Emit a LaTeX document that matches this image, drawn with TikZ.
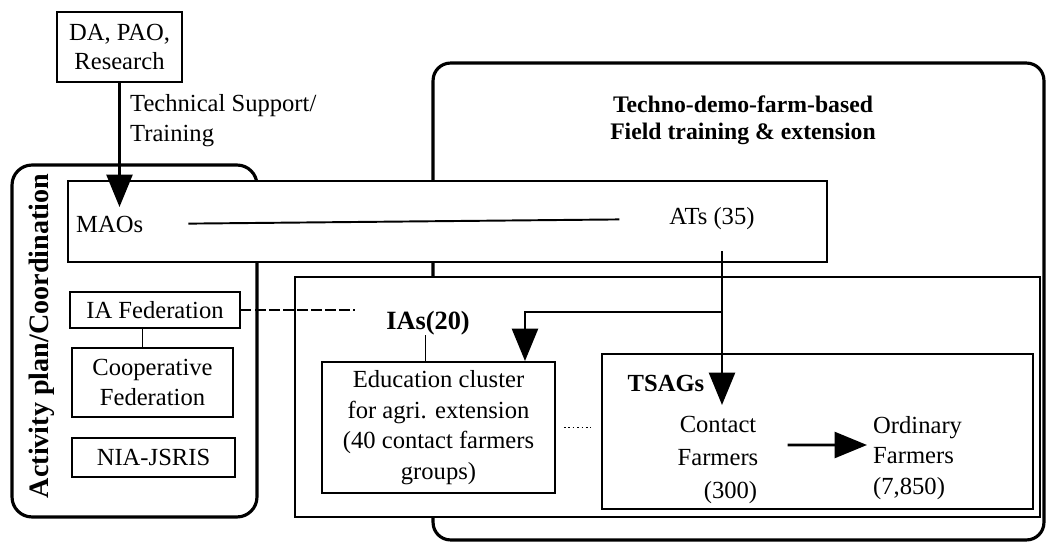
\documentclass[tikz,border=0pt]{standalone}
\usepackage{fontspec}
\setmainfont{Liberation Serif}
\usetikzlibrary{arrows.meta,positioning,calc}
\tikzset{
  plainbox/.style={draw,line width=1.1pt,fill=white,align=center,inner sep=0pt,
    font=\fontsize{14}{17}\selectfont},
  groupbox/.style={draw,line width=1.8pt,rounded corners=0.4cm,inner sep=0pt},
  tag/.style={align=center,font=\fontsize{14}{17}\selectfont},
  boldtag/.style={align=center,font=\bfseries\fontsize{14}{16}\selectfont},
  link/.style={line width=1.1pt},
  thinlink/.style={line width=0.6pt},
  bigarrow/.style={-{Triangle[length=0.65cm,width=0.52cm]},line width=1.6pt},
  dashlink/.style={line width=0.6pt,dash pattern=on 6pt off 2pt},
  dotlink/.style={line width=0.6pt,dash pattern=on 1pt off 1.5pt}
}
\begin{document}
\begin{tikzpicture}[x=0.02cm,y=-0.02cm]
  \useasboundingbox (0,0) rectangle (1047,543);
  % outer frames
  \node[groupbox,minimum width=4.9cm,minimum height=7.04cm] (actbox) at (134.5,341) {};
  \node[groupbox,rounded corners=0.35cm,minimum width=12.22cm,minimum height=9.54cm] (fieldbox) at (738.5,301.5) {};
  \node[rotate=90,font=\bfseries\fontsize{16}{18}\selectfont] (actlbl) at (42,336) {Activity plan/Coordination};
  \node[boldtag,font=\bfseries\fontsize{13.5}{15.5}\selectfont] (fieldlbl) at (743,120) {Techno-demo-farm-based\\Field training \& extension};

  % support
  \node[plainbox,minimum width=2.5cm,minimum height=1.4cm] (da) at (119.5,47) {DA, PAO,\\Research};
  \node[tag,anchor=west,align=left] (techlbl) at (124,121) {Technical Support/\\Training};

  % municipal level
  \node[plainbox,minimum width=15.18cm,minimum height=1.62cm] (maobox) at (447.5,221.5) {};
  \node[tag,anchor=west] (maos) at (70,224) {MAOs};
  \node[tag] (ats) at (712,219) {ATs (35)};
  \draw[link,shorten <=0.78cm,shorten >=0.88cm] (maos.east) -- (ats.west);
  \coordinate (maotip) at (119.5,207);
  \draw[bigarrow] (da.south) -- (maotip);

  % federations
  \node[plainbox,minimum width=3.4cm,minimum height=0.72cm] (iafed) at (155,310) {IA Federation};
  \node[plainbox,minimum width=3.22cm,minimum height=1.38cm] (coop) at (152.5,382.5) {Cooperative\\Federation};
  \node[plainbox,minimum width=3.26cm,minimum height=0.78cm] (nia) at (153.5,457.5) {NIA-JSRIS};
  \draw[thinlink] ([xshift=-0.2cm]coop.north) -- ++(0,0.4cm);

  % field level
  \node[plainbox,line width=1.3pt,minimum width=14.9cm,minimum height=4.8cm] (iabox) at (667.5,397) {};
  \node[boldtag,font=\bfseries\fontsize{15}{17}\selectfont] (ias) at (428,323) {IAs(20)};
  \node[plainbox,minimum width=4.66cm,minimum height=2.62cm,font=\fontsize{14}{17.5}\selectfont] (educ) at (438.5,427.5)
    {Education cluster\\for agri. extension\\(40 contact farmers\\groups)};
  \draw[thinlink] ([xshift=-0.26cm]educ.north) -- ++(0,0.52cm);
  \draw[dashlink,shorten >=0.5cm] (iafed.east) -- (iafed.east -| ias.west);

  \node[plainbox,minimum width=8.62cm,minimum height=3.1cm] (tsag) at (817.5,431.5) {};
  \node[boldtag] (tsaglbl) at (666,383) {TSAGs};
  \node[tag,font=\fontsize{14}{18.7}\selectfont] (contact) at (718,460) {Contact\\Farmers\\\hspace*{0.5cm}(300)};
  \node[tag,anchor=west,align=left,font=\fontsize{14}{17.5}\selectfont] (ordinary) at (867,458) {Ordinary\\Farmers\\(7,850)};
  \draw[dotlink,shorten <=0.16cm,shorten >=0.2cm] (educ.east) -- (educ.east -| tsag.west);
  \draw[bigarrow,shorten <=0.46cm] ([yshift=0.3cm]contact.east) -- ([yshift=0.26cm]ordinary.west);

  \coordinate (drop) at (722,405);
  \coordinate (fork) at (722,312);
  \draw[bigarrow,shorten <=0.3cm] (drop |- ats.south) -- (drop);
  \draw[bigarrow] (fork) -| ([xshift=1.73cm]educ.north);
\end{tikzpicture}
\end{document}
